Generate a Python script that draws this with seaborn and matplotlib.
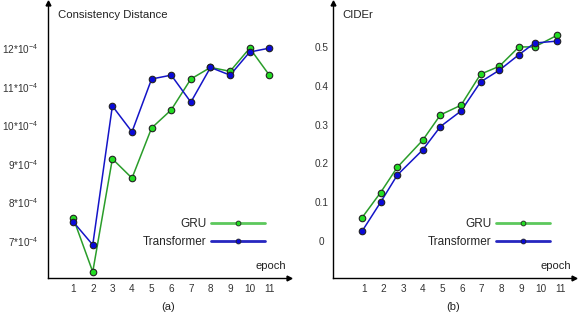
import numpy as np
import pandas as pd
import seaborn as sns
from matplotlib import pyplot as plt
from matplotlib.lines import Line2D

# data
epochs = [1, 2, 3, 4, 5, 6, 7, 8, 9, 10, 11]
cider_epochs = [0.9, 1.85, 2.7, 4.0, 4.9, 5.95, 6.95, 7.9, 8.9, 9.7, 10.85]

cons_gru = [7.6, 6.2, 9.13, 8.63, 9.93, 10.4, 11.2, 11.5, 11.4, 12.0, 11.3]
cons_transformer = [7.5, 6.9, 10.5, 9.83, 11.2, 11.3, 10.6, 11.5, 11.3, 11.9, 12.0]

cider_gru = [0.06, 0.125, 0.19, 0.26, 0.325, 0.35, 0.43, 0.45, 0.5, 0.5, 0.53]
cider_transformer = [0.025, 0.1, 0.17, 0.235, 0.295, 0.335, 0.41, 0.44, 0.48, 0.51, 0.515]

cons_ticks = [7, 8, 9, 10, 11, 12]
cons_ticklabels = [r"%d*10$^{-4}$" % v for v in cons_ticks]
cider_ticks = [0, 0.1, 0.2, 0.3, 0.4, 0.5]
cider_ticklabels = ["0", "0.1", "0.2", "0.3", "0.4", "0.5"]

sns.set_style("white")
plt.rcParams['font.family'] = ['Liberation Sans', 'DejaVu Sans']
plt.rcParams['mathtext.fontset'] = 'custom'
plt.rcParams['mathtext.rm'] = 'Liberation Sans'

line_colors = {"GRU": "#2a9d2a", "Transformer": "#1414c8"}
face_colors = {"GRU": "#22dd22", "Transformer": "#0a0ad8"}
legend_colors = {"GRU": "#5cc85c", "Transformer": "#2626c0"}


def make_df(x, gru, trans):
    return pd.concat([
        pd.DataFrame({"epoch": x, "value": gru, "model": "GRU"}),
        pd.DataFrame({"epoch": x, "value": trans, "model": "Transformer"}),
    ], ignore_index=True)


def draw_panel(ax, df, title, yticks, yticklabels, xlim, ylim, sub, ypad, yha):
    sns.lineplot(data=df, x="epoch", y="value", hue="model", palette=line_colors,
                 linewidth=1.1, legend=False, ax=ax, sort=False)
    for name, grp in df.groupby("model"):
        ax.scatter(grp["epoch"], grp["value"], s=22, color=face_colors[name],
                   edgecolor="#222222", linewidth=0.8, zorder=3)
    ax.set_xlim(xlim)
    ax.set_ylim(ylim)
    ax.set_xticks(epochs)
    ax.set_xticklabels([str(e) for e in epochs])
    ax.set_yticks(yticks)
    ax.set_yticklabels(yticklabels, ha=yha)
    ax.tick_params(axis="both", length=0, labelsize=7.2, colors="#333333")
    ax.tick_params(axis="x", pad=4.5)
    ax.tick_params(axis="y", pad=ypad)
    ax.set_xlabel("")
    ax.set_ylabel("")
    for s in ["top", "right"]:
        ax.spines[s].set_visible(False)
    for s in ["left", "bottom"]:
        ax.spines[s].set_color("black")
        ax.spines[s].set_linewidth(1.0)
    # arrow heads on the axes
    ax.plot(1, 0, ">k", markersize=3.5, transform=ax.transAxes, clip_on=False)
    ax.plot(0, 1, "^k", markersize=3.5, transform=ax.transAxes, clip_on=False)
    ax.text(0.04, 0.955, title, transform=ax.transAxes, fontsize=8.2,
            ha="left", va="center", color="#222222")
    ax.text(0.99, 0.025, "epoch", transform=ax.transAxes, fontsize=8,
            ha="right", va="bottom", color="#222222")
    ax.text(0.5, -0.105, sub, transform=ax.transAxes, fontsize=8,
            ha="center", va="center", color="#222222")

    handles = [Line2D([], [], color=legend_colors[m], linewidth=2.0, marker="o",
                      markersize=3.5, markerfacecolor=face_colors[m],
                      markeredgecolor="#222222", markeredgewidth=0.6)
               for m in ["GRU", "Transformer"]]
    ax.legend(handles, ["GRU", "Transformer"], loc="lower right",
              bbox_to_anchor=(0.945, 0.07), markerfirst=False, frameon=False,
              fontsize=8.5, handlelength=4.6, handletextpad=0.35, labelspacing=0.55)


fig = plt.figure(figsize=(5.82, 3.22), dpi=100)
ax1 = fig.add_axes([0.0825, 0.1366, 0.414, 0.854])
ax2 = fig.add_axes([0.572, 0.1366, 0.414, 0.854])

draw_panel(ax1, make_df(epochs, cons_gru, cons_transformer), "Consistency Distance",
           cons_ticks, cons_ticklabels, (-0.28, 12.0), (6.04, 13.17), "(a)", 7, "right")
draw_panel(ax2, make_df(cider_epochs, cider_gru, cider_transformer), "CIDEr",
           cider_ticks, cider_ticklabels, (-0.58, 11.7), (-0.095, 0.613), "(b)", 8, "center")

fig.savefig("out.png", dpi=100)
